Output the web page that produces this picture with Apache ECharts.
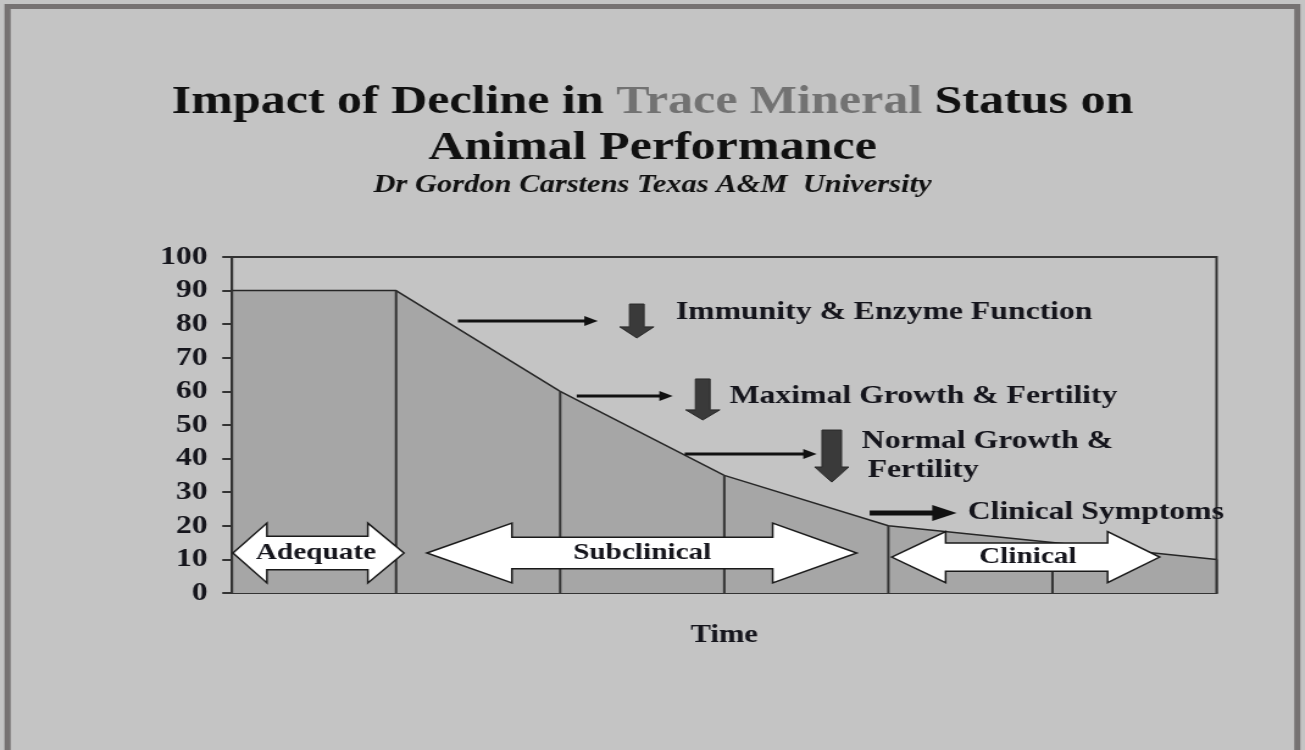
<!DOCTYPE html>
<html>
<head>
<meta charset="utf-8">
<script src="https://cdn.jsdelivr.net/npm/echarts@6/dist/echarts.min.js"></script>
<style>
  html, body { margin: 0; padding: 0; background: #c4c4c4; overflow: hidden; }
  /* the reference slide is stretched sideways, so the chart is drawn narrow and widened */
  #chart { width: 1070px; height: 750px; transform: scaleX(1.2196); transform-origin: 0 0; }
</style>
</head>
<body>
<div id="chart"></div>
<script>
const timePoints = [0, 1, 2, 3, 4, 5, 6];
const mineralStatus = [90, 90, 60, 35, 20, 15, 10];
const yMin = 0, yMax = 100, yStep = 10;

const SERIF = "'Liberation Serif', 'Times New Roman', serif";
const INK = '#15151c';

// annotation layout, in axis units (x = time point, y = status)
const bandArrows = [
    { label: 'Adequate', tipL: 0.006, baseL: 0.213, baseR: 0.828, tipR: 1.048, y: 11.9, head: 8.9, shaft: 5.0, textX: 0.512 },
    { label: 'Subclinical', tipL: 1.188, baseL: 1.706, baseR: 3.295, tipR: 3.807, y: 11.9, head: 8.9, shaft: 4.7, textX: 2.50 },
    { label: 'Clinical', tipL: 4.02, baseL: 4.349, baseR: 5.336, tipR: 5.653, y: 10.7, head: 7.6, shaft: 4.2, textX: 4.85 }
];
const pointerArrows = [
    { x1: 1.377, x2: 2.229, y: 80.95, width: 3, headLen: 11, headHalf: 5 },
    { x1: 2.101, x2: 2.686, y: 58.63, width: 3, headLen: 11, headHalf: 5 },
    { x1: 2.759, x2: 3.563, y: 41.37, width: 3, headLen: 11, headHalf: 5 },
    { x1: 3.886, x2: 4.416, y: 23.81, width: 5, headLen: 20, headHalf: 8 }
];
const downArrows = [
    { x: 2.467, top: 86.0, headTop: 79.2, tip: 75.9, shaft: 6, head: 14 },
    { x: 2.869, top: 63.7, headTop: 54.5, tip: 51.5, shaft: 6, head: 14 },
    { x: 3.655, top: 48.5, headTop: 37.5, tip: 33.0, shaft: 8, head: 14 }
];
const notes = [
    { text: 'Immunity & Enzyme Function', x: 2.705, y: 83.6 },
    { text: 'Maximal Growth & Fertility', x: 3.033, y: 58.6 },
    { text: 'Normal Growth &', x: 3.838, y: 45.2 },
    { text: 'Fertility', x: 3.874, y: 36.6 },
    { text: 'Clinical Symptoms', x: 4.483, y: 24.1 }
];

let myChart = echarts.init(document.getElementById('chart'));

function renderBand(params, api) {
    let a = bandArrows[params.dataIndex];
    let p = (x, y) => api.coord([x, y]);
    let pts = [
        p(a.tipL, a.y), p(a.baseL, a.y + a.head), p(a.baseL, a.y + a.shaft),
        p(a.baseR, a.y + a.shaft), p(a.baseR, a.y + a.head), p(a.tipR, a.y),
        p(a.baseR, a.y - a.head), p(a.baseR, a.y - a.shaft), p(a.baseL, a.y - a.shaft),
        p(a.baseL, a.y - a.head)
    ];
    let c = p(a.textX, a.y);
    return {
        type: 'group',
        children: [
            { type: 'polygon', shape: { points: pts }, style: { fill: '#ffffff', stroke: '#1a1a1a', lineWidth: 1.5 } },
            { type: 'text', x: c[0], y: c[1], style: { text: a.label, fill: INK, font: 'bold 24px ' + SERIF, align: 'center', verticalAlign: 'middle' } }
        ]
    };
}

function renderPointer(params, api) {
    let a = pointerArrows[params.dataIndex];
    let s = api.coord([a.x1, a.y]);
    let e = api.coord([a.x2, a.y]);
    return {
        type: 'group',
        children: [
            { type: 'line', shape: { x1: s[0], y1: s[1], x2: e[0] - a.headLen + 1, y2: e[1] }, style: { stroke: '#111', lineWidth: a.width } },
            { type: 'polygon', shape: { points: [[e[0], e[1]], [e[0] - a.headLen, e[1] - a.headHalf], [e[0] - a.headLen, e[1] + a.headHalf]] }, style: { fill: '#111' } }
        ]
    };
}

function renderDown(params, api) {
    let a = downArrows[params.dataIndex];
    let t = api.coord([a.x, a.top]);
    let h = api.coord([a.x, a.headTop]);
    let tip = api.coord([a.x, a.tip]);
    let x = t[0];
    return {
        type: 'polygon',
        shape: {
            points: [
                [x - a.shaft, t[1]], [x + a.shaft, t[1]], [x + a.shaft, h[1]], [x + a.head, h[1]],
                [x, tip[1]], [x - a.head, h[1]], [x - a.shaft, h[1]]
            ]
        },
        style: { fill: '#3a3a3a', stroke: '#2a2a2a', lineWidth: 1 }
    };
}

function renderNote(params, api) {
    let a = notes[params.dataIndex];
    let c = api.coord([a.x, a.y]);
    return {
        type: 'text', x: c[0], y: c[1],
        style: { text: a.text, fill: INK, font: 'bold 26px ' + SERIF, align: 'left', verticalAlign: 'middle' }
    };
}

let option = {
    backgroundColor: '#c4c4c4',
    animation: false,
    title: [
        {
            text: '{b|Impact of Decline in }{g|Trace Mineral}{b| Status on}',
            left: 'center', top: 76,
            textStyle: {
                rich: {
                    b: { fontFamily: SERIF, fontSize: 41, fontWeight: 'bold', color: '#111', lineHeight: 42 },
                    g: { fontFamily: SERIF, fontSize: 41, fontWeight: 'bold', color: '#727272', lineHeight: 42 }
                }
            }
        },
        {
            text: 'Animal Performance',
            left: 'center', top: 122,
            textStyle: { fontFamily: SERIF, fontSize: 41, fontWeight: 'bold', color: '#111', lineHeight: 42 }
        },
        {
            text: 'Dr Gordon Carstens Texas A&M  University',
            left: 'center', top: 168,
            textStyle: { fontFamily: SERIF, fontSize: 25, fontWeight: 'bold', fontStyle: 'italic', color: '#111', lineHeight: 26 }
        }
    ],
    graphic: [{
        type: 'rect',
        shape: { x: 6.2, y: 6.5, width: 1057.5, height: 760 },
        style: { fill: 'none', stroke: '#767272', lineWidth: 5 },
        z: 100
    }],
    grid: {
        left: 190.2, right: 72.5, top: 257, bottom: 157,
        show: true, borderColor: '#333', borderWidth: 2, backgroundColor: 'transparent'
    },
    xAxis: {
        type: 'value',
        min: 0, max: 6, interval: 1,
        name: 'Time',
        nameLocation: 'middle',
        nameGap: 30,
        nameTextStyle: { fontFamily: SERIF, fontSize: 25, fontWeight: 'bold', color: INK },
        axisLine: { lineStyle: { color: '#333', width: 2 } },
        axisTick: { show: false },
        axisLabel: { show: false },
        splitLine: { show: false }
    },
    yAxis: {
        type: 'value',
        min: yMin, max: yMax, interval: yStep,
        axisLine: { show: true, lineStyle: { color: '#333', width: 2 } },
        axisTick: { show: true, length: 8, lineStyle: { color: '#333', width: 2 } },
        axisLabel: { margin: 20, fontFamily: SERIF, fontSize: 26, fontWeight: 'bold', color: INK },
        splitLine: { show: false }
    },
    series: [
        {
            type: 'line',
            data: timePoints.map((t, i) => [t, mineralStatus[i]]),
            symbol: 'none',
            lineStyle: { color: '#262626', width: 1.5 },
            areaStyle: { color: '#a6a6a6', opacity: 1 },
            z: 2
        },
        {
            type: 'bar',
            data: timePoints.map((t, i) => [t, mineralStatus[i]]),
            barWidth: 2,
            itemStyle: { color: '#333' },
            z: 3
        },
        { type: 'custom', renderItem: renderBand, data: bandArrows.map((a, i) => [i]), clip: false, z: 5, silent: true },
        { type: 'custom', renderItem: renderPointer, data: pointerArrows.map((a, i) => [i]), clip: false, z: 5, silent: true },
        { type: 'custom', renderItem: renderDown, data: downArrows.map((a, i) => [i]), clip: false, z: 5, silent: true },
        { type: 'custom', renderItem: renderNote, data: notes.map((a, i) => [i]), clip: false, z: 6, silent: true }
    ]
};

myChart.setOption(option);
</script>
</body>
</html>
